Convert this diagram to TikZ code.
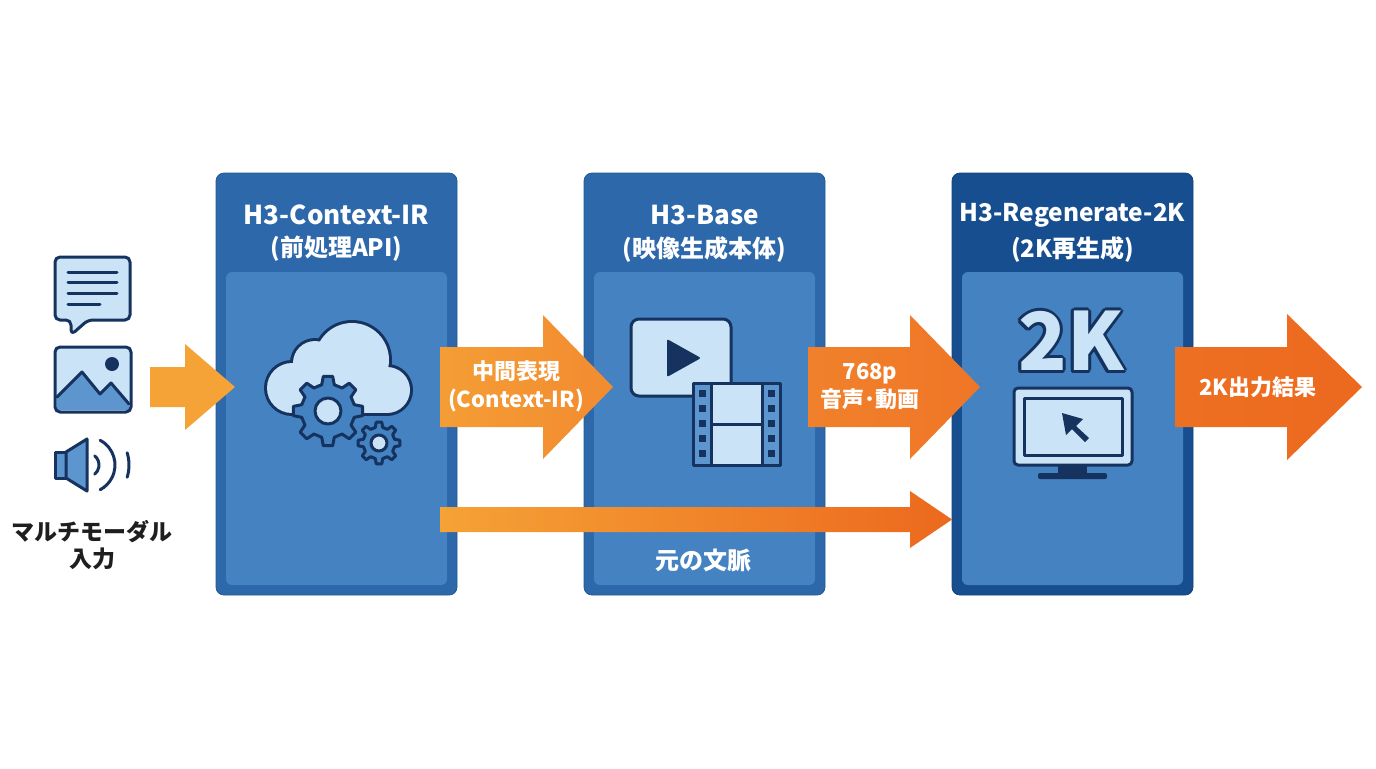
\documentclass[tikz,border=0pt]{standalone}
\usepackage{fontspec}
\setmainfont{Noto Sans CJK JP}
\usepackage{tikz}

\definecolor{hdrA}{HTML}{2D68AA}
\definecolor{hdrB}{HTML}{174E8F}
\definecolor{bodyfill}{HTML}{4482C1}
\definecolor{navy}{HTML}{15335E}
\definecolor{iconlight}{HTML}{CBE3F6}
\definecolor{iconmid}{HTML}{5D95CF}
\definecolor{orA}{HTML}{F5A236}
\definecolor{orB}{HTML}{F28B30}
\definecolor{orC}{HTML}{EF7626}
\definecolor{orD}{HTML}{EC691E}
\definecolor{inktext}{HTML}{1E1E1E}

% fat arrow: [style]{x start}{x head}{x tip}{y}{half body}{half head}
\newcommand{\blockarrow}[7][]{%
	\path[#1] (#2,{#5-#6}) -- (#3,{#5-#6}) -- (#3,{#5-#7}) -- (#4,#5)
		-- (#3,{#5+#7}) -- (#3,{#5+#6}) -- (#2,{#5+#6}) -- cycle;
}

% gear: {x}{y}{teeth}{inner r}{outer r}{hole r}
\newcommand{\gearicon}[6]{%
	\begin{scope}[shift={(#1,#2)}]
		\draw[iconline, fill=bodyfill] ({-0.3*360/#3}:#4)
			\foreach \k in {1,...,#3}{
				-- ({(\k-1-0.17)*360/#3}:#5) -- ({(\k-1+0.17)*360/#3}:#5)
				-- ({(\k-1+0.3)*360/#3}:#4) -- ({(\k-0.3)*360/#3}:#4)
			} -- cycle;
		\draw[iconline, fill=iconlight] (0,0) circle[radius=#6];
	\end{scope}
}

\begin{document}
\begin{tikzpicture}
[x=0.5pt, y=-0.5pt]
\tikzset{
	panel/.style = {rounded corners=4pt, minimum width=120.5pt, minimum height=211pt, inner sep=0pt},
	panelbody/.style = {fill=bodyfill, rounded corners=3pt, minimum width=110.5pt, minimum height=156.5pt, inner sep=0pt},
	title/.style = {text=white, font=\bfseries\fontsize{13}{15}\selectfont},
	subtitle/.style = {text=white, font=\bfseries\fontsize{12}{14}\selectfont},
	flowlabel/.style = {text=white, font=\bfseries\fontsize{11}{14}\selectfont, align=center},
	inputlabel/.style = {text=inktext, font=\bfseries\fontsize{11.5}{13.5}\selectfont, align=center},
	bigk/.style = {font=\bfseries\fontsize{40}{40}\selectfont, inner sep=0pt},
	iconline/.style = {draw=navy, line width=1.5pt, line join=round, line cap=round}
}

\fill[white] (0,0) rectangle (1376,768);
\useasboundingbox (0,0) rectangle (1376,768);

% panels
\node[panel, fill=hdrA, draw=hdrA!85!black] (ctx) at (336.5,384) {};
\node[panel, fill=hdrA, draw=hdrA!85!black] (base) at (704.5,384) {};
\node[panel, fill=hdrB, draw=hdrB!85!black] (regen) at (1072.5,384) {};
\node[panelbody] (ctxbody) at (336.5,428.5) {};
\node[panelbody] (basebody) at (704.5,428.5) {};
\node[panelbody] (regenbody) at (1072.5,428.5) {};

\node[title] (ctxtitle) at (336.5,215) {H3-Context-IR};
\node[subtitle] (ctxsub) at (336.5,249) {(前処理API)};
\node[title] (basetitle) at (704.5,215) {H3-Base};
\node[subtitle] (basesub) at (704.5,249) {(映像生成本体)};
\node[title, font=\bfseries\fontsize{12.2}{15}\selectfont] (regentitle) at (1072.5,215) {H3-Regenerate-2K};
\node[subtitle] (regensub) at (1072.5,249) {(2K再生成)};

% input icons
\draw[iconline, fill=iconlight, rounded corners=2.5pt] (55,257) -- (130,257) -- (130,320)
	-- (88,320) -- (71,335) -- (71,320) -- (55,320) -- cycle;
\foreach \ly/\lx in {272/117, 282/117, 293/117, 304/100}
	\draw[iconline] (68,\ly) -- (\lx,\ly);

\fill[iconlight, rounded corners=2.5pt] (55,347) rectangle (131,412);
\fill[iconmid] (57,397) -- (82,372) -- (100,394) -- (111,383) -- (129,404) -- (129,410) -- (57,410) -- cycle;
\draw[iconline] (57,397) -- (82,372) -- (100,394) -- (111,383) -- (129,404);
\fill[navy] (112,364) circle[radius=7];
\draw[iconline, rounded corners=2.5pt] (55,347) rectangle (131,412);

\draw[iconline, fill=iconmid] (55,452) rectangle (66,478);
\draw[iconline, fill=iconmid] (66,452) -- (87,439) -- (87,491) -- (66,478) -- cycle;
\draw[iconline] (87,465) ++(-50:12) arc[start angle=-50, end angle=50, radius=12];
\draw[iconline] (87,465) ++(-62:28) arc[start angle=-62, end angle=62, radius=28];
\draw[iconline] (87,465) ++(-17:42) arc[start angle=-17, end angle=17, radius=42];

\node[inputlabel] (mm) at (92,545) {マルチモーダル\\入力};

% cloud with gears
\foreach \cx/\cy/\cr in {292/388/25, 315/363/22, 352/360/37, 387/390/23}
	\draw[navy, line width=3pt] (\cx,\cy) circle[radius=\cr];
\draw[navy, line width=3pt] (292,388) rectangle (387,413);
\foreach \cx/\cy/\cr in {292/388/25, 315/363/22, 352/360/37, 387/390/23}
	\fill[iconlight] (\cx,\cy) circle[radius=\cr];
\fill[iconlight] (292,388) rectangle (387,413);
\gearicon{328}{411}{8}{27}{35}{13}
\gearicon{379}{443}{8}{16}{21}{8}

% video icon
\draw[iconline, fill=iconlight, rounded corners=4pt] (631,319) rectangle (731,396);
\fill[navy, rounded corners=1pt] (667,339) -- (701,358) -- (667,377) -- cycle;
\draw[iconline, fill=iconmid] (693,383) rectangle (780,465);
\draw[iconline, fill=iconlight] (711,383) rectangle (762,424);
\draw[iconline, fill=iconlight] (711,424) rectangle (762,465);
\foreach \py in {393,408,423,438,453}{
	\fill[navy] (698.5,\py) ++(0,-3.5) rectangle ++(7,7);
	\fill[navy] (767.5,\py) ++(0,-3.5) rectangle ++(7,7);
}

% 2K monitor
\foreach \a in {0,30,...,330}
	\node[bigk, text=navy, shift={(\a:3)}] at (1071,341) {2K};
\node[bigk, text=iconlight] (twok) at (1071,341) {2K};
\draw[iconline, fill=iconlight, rounded corners=2pt] (1014,388) rectangle (1132,465);
\draw[iconline, fill=iconlight] (1024,398) rectangle (1122,455);
\fill[navy] (1058,465) rectangle (1087,475);
\fill[navy, rounded corners=1pt] (1038,473) rectangle (1107,479);
\fill[navy] (1062,413) -- (1083,419) -- (1076,426) -- (1089,438) -- (1085,442) -- (1072,429) -- (1066,435) -- cycle;

% flow arrows
\blockarrow[fill=orA]{150}{185}{235}{387}{20}{43}
\blockarrow[left color=orA!80!orB, right color=orB]{440}{543}{613}{387}{40}{72}
\blockarrow[left color=orB!50!orC, right color=orC]{808}{910}{980}{387}{40}{72}
\blockarrow[left color=orC!50!orD, right color=orD]{1175}{1287}{1362}{387}{40}{73}
\blockarrow[left color=orA, right color=orD]{440}{910}{952}{519.5}{12.5}{28.5}

\node[flowlabel] (ir) at (516,386) {中間表現\\(Context-IR)};
\node[flowlabel] (vid) at (870,386) {768p\\音声･動画};
\node[flowlabel] (out) at (1258,387) {2K出力結果};
\node[flowlabel, font=\bfseries\fontsize{12}{14}\selectfont] (orig) at (703,560) {元の文脈};

\end{tikzpicture}
\end{document}
